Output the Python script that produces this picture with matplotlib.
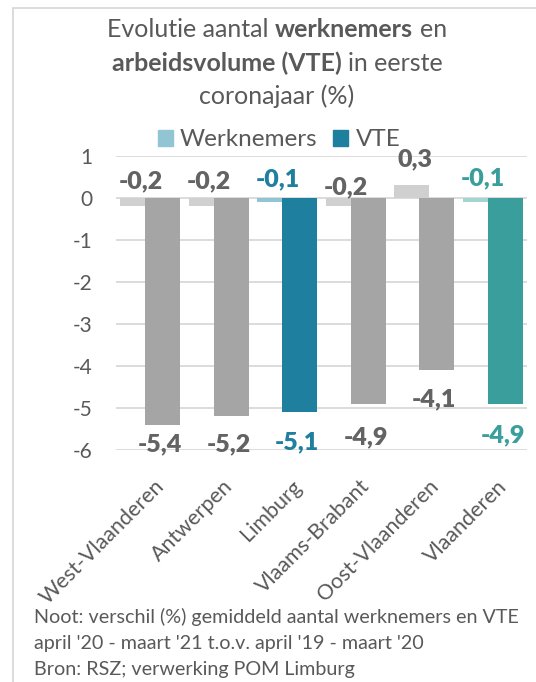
import matplotlib
matplotlib.use("Agg")
import matplotlib.pyplot as plt
import numpy as np
from matplotlib.patches import Patch, Rectangle
from matplotlib.transforms import ScaledTranslation

# --- data ---
regions = ["West-Vlaanderen", "Antwerpen", "Limburg", "Vlaams-Brabant",
           "Oost-Vlaanderen", "Vlaanderen"]
werknemers = [-0.2, -0.2, -0.1, -0.2, 0.3, -0.1]
vte = [-5.4, -5.2, -5.1, -4.9, -4.1, -4.9]

# --- styling ---
FONT = "Lato"
TXT = "#595959"
LBL = "#636363"
w_colors = ["#D0D0D0", "#D0D0D0", "#92C5D4", "#D0D0D0", "#D0D0D0", "#A3D5D1"]
v_colors = ["#A5A5A5", "#A5A5A5", "#1F7F9F", "#A5A5A5", "#A5A5A5", "#3A9E9C"]
lbl_colors = [LBL, LBL, "#1F7F9F", LBL, LBL, "#3A9E9C"]
# label baselines (data units), placed by hand as in the original
w_label_y = [0.23, 0.23, 0.28, 0.09, 0.75, 0.30]
v_label_y = [-6.03, -6.03, -6.0, -5.86, -4.96, -5.82]

plt.rcParams["font.family"] = [FONT, "DejaVu Sans"]

W, H = 536, 682
fig = plt.figure(figsize=(W / 100, H / 100), dpi=100)
ax = fig.add_axes([116 / W, (H - 449.7) / H, 411 / W, 294 / H])

x = np.arange(len(regions))
bw = 0.51
off = 0.182
ax.bar(x - off, werknemers, bw, color=w_colors, zorder=2)
ax.bar(x + off, vte, bw, color=v_colors, zorder=3)

for i in range(len(regions)):
    ax.text(x[i] - off + 0.04, w_label_y[i], f"{werknemers[i]:.1f}".replace(".", ","),
            ha="center", va="baseline", fontsize=18, fontweight="heavy",
            color=lbl_colors[i], zorder=4)
    ax.text(x[i] + off - 0.04, v_label_y[i], f"{vte[i]:.1f}".replace(".", ","),
            ha="center", va="baseline", fontsize=18, fontweight="heavy",
            color=lbl_colors[i], zorder=4)

ax.set_xlim(-0.5, len(regions) - 0.5)
ax.set_ylim(-6, 1)
ax.set_yticks(range(-6, 2))
ax.set_yticklabels([str(v) for v in range(-6, 2)])
ax.yaxis.grid(True, color="#D9D9D9", linewidth=1.3, zorder=0)
ax.set_axisbelow(True)
for s in ax.spines.values():
    s.set_visible(False)
ax.tick_params(axis="y", length=0, pad=17, labelsize=15, labelcolor=TXT)
ax.tick_params(axis="x", length=0, pad=19, labelsize=15.5, labelcolor=TXT)
ax.set_xticks(x)
ax.set_xticklabels(regions, rotation=45, ha="right", va="top", rotation_mode="anchor")
for t in ax.get_xticklabels():
    t.set_transform(t.get_transform() + ScaledTranslation(0.04, 0, fig.dpi_scale_trans))

# legend
handles = [Patch(color="#92C5D4", label="Werknemers"),
           Patch(color="#1F7F9F", label="VTE")]
fig.legend(handles=handles, ncol=2, loc="center", bbox_to_anchor=(279 / W, 1 - 140 / H),
           frameon=False, fontsize=17.5, handlelength=0.62, handleheight=0.62,
           handletextpad=0.3, columnspacing=0.65, labelcolor=TXT, borderpad=0)

# title with mixed weights, centred line by line
renderer = fig.canvas.get_renderer()


def rich_line(parts, y_px, size, cx_px):
    probe = fig.text(0, 0, "x x", fontsize=size)
    probe2 = fig.text(0, 0, "xx", fontsize=size)
    space = (probe.get_window_extent(renderer).width
             - probe2.get_window_extent(renderer).width)
    probe.remove()
    probe2.remove()
    objs = []
    for s, bold in parts:
        t = fig.text(0, 1 - y_px / H, s, fontsize=size, color=TXT, va="baseline",
                     fontweight="bold" if bold else "normal")
        objs.append(t)
    widths = [t.get_window_extent(renderer).width for t in objs]
    total = sum(widths) + space * (len(objs) - 1)
    xp = cx_px - total / 2
    for t, w in zip(objs, widths):
        t.set_x(xp / W)
        xp += w + space


title_size = 18
rich_line([("Evolutie aantal", False), ("werknemers", True), ("en", False)], 37, title_size, 277)
rich_line([("arbeidsvolume (VTE)", True), ("in eerste", False)], 71, title_size, 277)
rich_line([("coronajaar (%)", False)], 104, title_size, 277)

# footnote
notes = ["Noot: verschil (%) gemiddeld aantal werknemers en VTE",
         "april '20 - maart '21 t.o.v. april '19 - maart '20",
         "Bron: RSZ; verwerking POM Limburg"]
for k, line in enumerate(notes):
    fig.text(34 / W, 1 - (623 + 26 * k) / H, line, fontsize=14.2, color=TXT, va="baseline")

# chart frame
fig.patches.append(Rectangle((13 / W, -0.05), 1.1, 1 - 7.5 / H + 0.05,
                             transform=fig.transFigure, fill=False,
                             edgecolor="#D9D9D9", linewidth=1.3))

fig.savefig("out.png", dpi=100)
